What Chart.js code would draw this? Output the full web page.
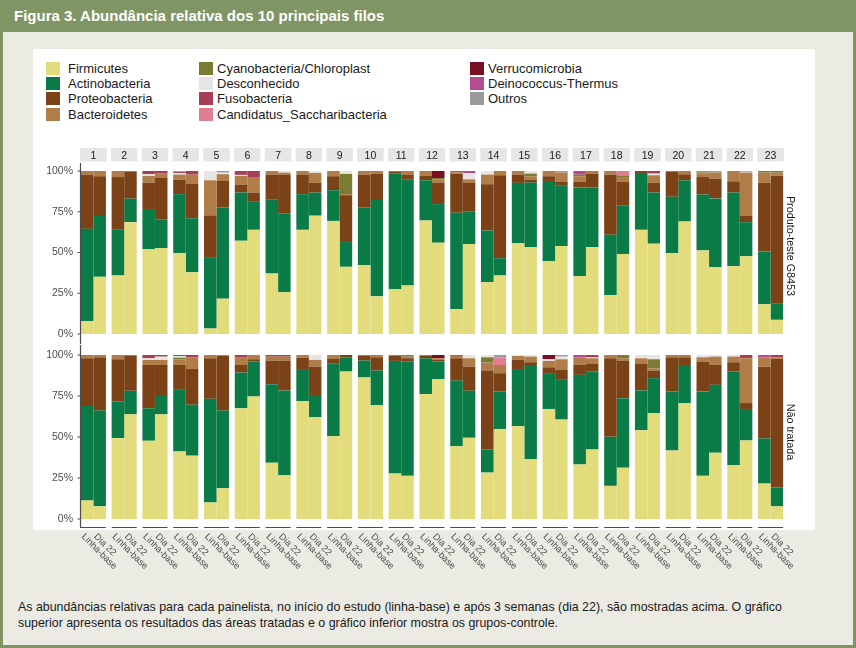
<!DOCTYPE html>
<html>
<head>
<meta charset="utf-8">
<script src="https://cdn.jsdelivr.net/npm/chart.js@4.4.1/dist/chart.umd.min.js"></script>
<style>
  body { margin: 0; }
  #page { position: relative; width: 856px; height: 648px; background: #ecebe3; overflow: hidden;
          font-family: "Liberation Sans", Arial, sans-serif; color: #1a1a1a; }
  #header { position: absolute; left: 0; top: 0; width: 856px; height: 32px; background: #7f9563;
            color: #fff; font-weight: bold; font-size: 15px; line-height: 32px; padding-left: 14px; box-sizing: border-box; }
  #frame { position: absolute; left: 0; top: 0; width: 856px; height: 648px; box-sizing: border-box;
           border: 3px solid #7f9563; border-top: none; pointer-events: none; }
  #panel { position: absolute; left: 33px; top: 49px; width: 782px; height: 481px; background: #fff; }
  .sw { position: absolute; width: 14px; height: 13px; }
  .lt { position: absolute; font-size: 13px; line-height: 13px; white-space: nowrap; }
  .wrap { position: absolute; }
  .facet { position: absolute; font-size: 10.8px; white-space: nowrap; color: #1a1a1a;
           transform: translate(-50%, -50%) rotate(90deg); }
  #caption { position: absolute; left: 18px; top: 599px; font-size: 12.4px; line-height: 16px; color: #1a1a1a; white-space: nowrap; }
</style>
</head>
<body>
<div id="page">
  <div id="header">Figura 3. Abundância relativa dos 10 principais filos</div>
  <div id="panel"></div>
  <div id="legend"></div>
  <div class="wrap" id="topWrap" style="left:33px;top:140px;width:753px;height:204px;"><canvas id="topChart"></canvas></div>
  <div class="wrap" id="botWrap" style="left:33px;top:345px;width:790px;height:230px;"><canvas id="botChart"></canvas></div>
  <div class="facet" style="left:791px;top:246px;">Produto-teste G8453</div>
  <div class="facet" style="left:791px;top:432px;">Não tratada</div>
  <div id="caption">As abundâncias relativas para cada painelista, no início do estudo (linha-base) e após 3 semanas (dia 22), são mostradas acima. O gráfico<br>superior apresenta os resultados das áreas tratadas e o gráfico inferior mostra os grupos-controle.</div>
  <div id="frame"></div>
</div>
<script>
// panels (painelistas) and time points
const panels = ['1','2','3','4','5','6','7','8','9','10','11','12','13','14','15','16','17','18','19','20','21','22','23'];
const timeLabels = ['Linha-base', 'Dia 22'];
const yTicks = [0, 25, 50, 75, 100];
const phyla = ['Firmicutes', 'Actinobacteria', 'Proteobacteria', 'Bacteroidetes',
  'Cyanobacteria/Chloroplast', 'Desconhecido', 'Fusobacteria', 'Candidatus_Saccharibacteria',
  'Verrucomicrobia', 'Deinococcus-Thermus', 'Outros'];
const phylaColors = ['#e2dc7c', '#0a7b47', '#7b4217', '#b07c48', '#7b7c33', '#e6e5e3',
  '#a63f55', '#e07d90', '#7a0f24', '#b64b8f', '#9b9b9b'];

// Produto-teste G8453 - Linha-base (%)
const firmTesteBase  = [8, 35.9, 52.1, 49.7, 3.4, 57.2, 37.1, 63.9, 69.4, 42.2, 27.4, 69.6, 15.2, 31.8, 55.8, 44.8, 35.5, 23.9, 63.9, 49.7, 51.3, 41.6, 18.3];
const actTesteBase   = [56.5, 28.4, 24.6, 36.1, 43.3, 29.6, 45.5, 21.9, 18.8, 35.5, 71, 24.7, 59.2, 31.7, 36.9, 49.1, 54.4, 37, 34.9, 34.5, 34.3, 45.2, 32.4];
const proTesteBase   = [33.3, 32, 16.2, 8.9, 26.1, 4.9, 15.2, 12, 8.6, 20.1, 1, 2.7, 24, 28.4, 5.1, 2.9, 3.4, 36.9, 1.2, 15.2, 10.7, 6.9, 42];
const bacTesteBase   = [2.2, 3.7, 4.1, 3.1, 21.5, 5.3, 2.2, 2.2, 3.2, 2.2, 0.6, 3, 0.8, 5.9, 2.2, 3.2, 3.5, 2.2, 0, 0.6, 2.1, 6.3, 6.3];
const cyaTesteBase   = [0, 0, 0, 0, 0, 0, 0, 0, 0, 0, 0, 0, 0, 0, 0, 0, 1, 0, 0, 0, 0.8, 0, 1];
const desTesteBase   = [0, 0, 1, 1, 5.7, 0.6, 0, 0, 0, 0, 0, 0, 0, 2.2, 0, 0, 0, 0, 0, 0, 0, 0, 0];
const fusTesteBase   = [0, 0, 2, 0.7, 0, 2.4, 0, 0, 0, 0, 0, 0, 0, 0, 0, 0, 0, 0, 0, 0, 0, 0, 0];
const canTesteBase   = [0, 0, 0, 0.5, 0, 0, 0, 0, 0, 0, 0, 0, 0, 0, 0, 0, 0, 0, 0, 0, 0, 0, 0];
const verTesteBase   = [0, 0, 0, 0, 0, 0, 0, 0, 0, 0, 0, 0, 0, 0, 0, 0, 0, 0, 0, 0, 0, 0, 0];
const deiTesteBase   = [0, 0, 0, 0, 0, 0, 0, 0, 0, 0, 0, 0, 0.8, 0, 0, 0, 2.2, 0, 0, 0, 0, 0, 0];
const outTesteBase   = [0, 0, 0, 0, 0, 0, 0, 0, 0, 0, 0, 0, 0, 0, 0, 0, 0, 0, 0, 0, 0.8, 0, 0];

// Produto-teste G8453 - Dia 22 (%)
const firmTesteDia  = [35.1, 68.6, 52.7, 37.9, 21.7, 63.9, 25.6, 72.6, 41.2, 23.1, 29.8, 56, 55.2, 35.9, 53.3, 54, 53.3, 49.1, 55.4, 69, 41, 47.7, 8.7];
const actTesteDia   = [37.3, 14.4, 17.7, 33.1, 55.8, 17.6, 48.2, 14.2, 15.2, 59.1, 65.1, 23.7, 19.8, 10.6, 39.6, 36.9, 36.6, 29.6, 31.4, 25.3, 42.2, 20.9, 10.2];
const proTesteDia   = [24.4, 16.4, 25.3, 21.3, 16.4, 5.3, 23.8, 5.9, 28.8, 16.2, 2.7, 13.2, 17.7, 50.9, 1.8, 2.4, 8.5, 14.6, 5.9, 3.7, 12.1, 3.8, 78.1];
const bacTesteDia   = [3.2, 0.6, 2.7, 5.5, 4.1, 9.5, 1.4, 6.1, 0.6, 1.6, 2.4, 1.8, 2.2, 2.6, 2.1, 5.7, 1.6, 2.5, 4.7, 2, 3.7, 26.6, 2];
const cyaTesteDia   = [0, 0, 0, 0, 0, 0, 0, 0, 12.4, 0, 0, 1, 0, 0, 1.6, 0, 0, 1.5, 0, 0, 0, 0, 1];
const desTesteDia   = [0, 0, 0, 0, 1, 0, 1, 1.2, 1.8, 0, 0, 0, 3.8, 0, 1.6, 0, 0, 0, 1, 0, 0, 0.6, 0];
const fusTesteDia   = [0, 0, 1.6, 2.2, 0, 3.7, 0, 0, 0, 0, 0, 0, 0, 0, 0, 0, 0, 0, 1.6, 0, 0, 0.4, 0];
const canTesteDia   = [0, 0, 0, 0, 0, 0, 0, 0, 0, 0, 0, 0, 0, 0, 0, 0, 0, 2.7, 0, 0, 0, 0, 0];
const verTesteDia   = [0, 0, 0, 0, 0, 0, 0, 0, 0, 0, 0, 4.3, 0, 0, 0, 0, 0, 0, 0, 0, 0, 0, 0];
const deiTesteDia   = [0, 0, 0, 0, 0, 0, 0, 0, 0, 0, 0, 0, 1.3, 0, 0, 0, 0, 0, 0, 0, 0, 0, 0];
const outTesteDia   = [0, 0, 0, 0, 1, 0, 0, 0, 0, 0, 0, 0, 0, 0, 0, 1, 0, 0, 0, 0, 1, 0, 0];

// Não tratada - Linha-base (%)
const firmCtrlBase  = [11.3, 49.3, 47.7, 41.2, 10.1, 67.5, 34.3, 71.9, 50.5, 86.3, 27.7, 76.2, 44.4, 28.3, 56.6, 67.1, 33.3, 20.2, 54.1, 41.8, 26.3, 32.7, 21.6];
const actCtrlBase   = [57.6, 22.4, 19.8, 38, 63.2, 21.8, 47.9, 19, 44.4, 10.3, 68.7, 21.8, 40, 14.1, 34.3, 21.4, 54.6, 29.9, 24.3, 36, 51.5, 57.2, 27.5];
const proCtrlBase   = [29.1, 25.7, 26.4, 14.7, 24.7, 4.6, 14.4, 7.5, 2.7, 2.8, 3, 1.4, 13.6, 48.1, 6.1, 4, 6, 47.9, 16.1, 20.8, 18.2, 5.7, 43.8];
const bacCtrlBase   = [2, 2.6, 3.1, 3.5, 2, 4.5, 2.4, 1.6, 2.4, 0.6, 0.6, 0.6, 1.4, 4.9, 2.4, 3.9, 4.5, 2, 3.5, 1.4, 2.6, 3.4, 5.7];
const cyaCtrlBase   = [0, 0, 0, 1, 0, 0, 0, 0, 0, 0, 0, 0, 0, 3.2, 0, 0, 0, 0, 0, 0, 0, 0, 0];
const desCtrlBase   = [0, 0, 1, 1, 0, 0, 0, 0, 0, 0, 0, 0, 0, 1.4, 0.6, 1, 0, 0, 2, 0, 1.4, 1, 0];
const fusCtrlBase   = [0, 0, 2, 0.6, 0, 1.6, 1, 0, 0, 0, 0, 0, 0, 0, 0, 0, 0, 0, 0, 0, 0, 0, 0];
const canCtrlBase   = [0, 0, 0, 0, 0, 0, 0, 0, 0, 0, 0, 0, 0, 0, 0, 0, 0, 0, 0, 0, 0, 0, 0];
const verCtrlBase   = [0, 0, 0, 0, 0, 0, 0, 0, 0, 0, 0, 0, 0, 0, 0, 2.6, 0, 0, 0, 0, 0, 0, 0];
const deiCtrlBase   = [0, 0, 0, 0, 0, 0, 0, 0, 0, 0, 0, 0, 0.6, 0, 0, 0, 1.6, 0, 0, 0, 0, 0, 1.4];
const outCtrlBase   = [0, 0, 0, 0, 0, 0, 0, 0, 0, 0, 0, 0, 0, 0, 0, 0, 0, 0, 0, 0, 0, 0, 0];

// Não tratada - Dia 22 (%)
const firmCtrlDia  = [7.7, 63.8, 63.8, 38.6, 18.8, 74.7, 26.7, 62.2, 89.9, 69.3, 26.3, 85.3, 49.5, 54.9, 36.4, 60.6, 42.4, 31.3, 64.6, 70.7, 40.4, 47.9, 7.7];
const actCtrlDia   = [58.4, 14.4, 11.8, 31.1, 47.3, 21.3, 51.7, 13.4, 8.7, 21.2, 69.7, 10.7, 28.7, 22.9, 57.5, 24.7, 47.5, 42.4, 21.3, 23.2, 41.4, 19.2, 11.5];
const proCtrlDia   = [32.5, 21.2, 18.3, 21.8, 33.5, 1.4, 18.2, 17.3, 1.4, 8.1, 2, 1, 14.7, 11.1, 1.7, 5.6, 4.6, 22.9, 4.6, 4.7, 12.1, 3.6, 78.4];
const bacCtrlDia   = [1.4, 0.6, 3.1, 7.1, 0.4, 2.6, 2.4, 4.1, 0, 1.4, 1, 1, 5.1, 5, 3.4, 6.5, 3.5, 1.4, 1.4, 1.4, 5.1, 27.3, 1];
const cyaCtrlDia   = [0, 0, 0, 0, 0, 0, 0, 0, 0, 0, 1, 0, 0, 0, 0, 0, 0, 2, 5.5, 0, 0, 0, 0];
const desCtrlDia   = [0, 0, 2, 0, 0, 0, 0, 3, 0, 0, 0, 0, 2, 0, 1, 1.6, 0.5, 0, 2.6, 0, 1, 0, 0];
const fusCtrlDia   = [0, 0, 1, 1.4, 0, 0, 1, 0, 0, 0, 0, 0, 0, 0, 0, 0, 1.5, 0, 0, 0, 0, 2, 1.4];
const canCtrlDia   = [0, 0, 0, 0, 0, 0, 0, 0, 0, 0, 0, 0, 0, 4.7, 0, 0, 0, 0, 0, 0, 0, 0, 0];
const verCtrlDia   = [0, 0, 0, 0, 0, 0, 0, 0, 0, 0, 0, 2, 0, 0, 0, 0, 0, 0, 0, 0, 0, 0, 0];
const deiCtrlDia   = [0, 0, 0, 0, 0, 0, 0, 0, 0, 0, 0, 0, 0, 0, 0, 0, 0, 0, 0, 0, 0, 0, 0];
const outCtrlDia   = [0, 0, 0, 0, 0, 0, 0, 0, 0, 0, 0, 0, 0, 1.4, 0, 1, 0, 0, 0, 0, 0, 0, 0];

const testeBase = [firmTesteBase, actTesteBase, proTesteBase, bacTesteBase, cyaTesteBase, desTesteBase, fusTesteBase, canTesteBase, verTesteBase, deiTesteBase, outTesteBase];
const testeDia  = [firmTesteDia, actTesteDia, proTesteDia, bacTesteDia, cyaTesteDia, desTesteDia, fusTesteDia, canTesteDia, verTesteDia, deiTesteDia, outTesteDia];
const ctrlBase  = [firmCtrlBase, actCtrlBase, proCtrlBase, bacCtrlBase, cyaCtrlBase, desCtrlBase, fusCtrlBase, canCtrlBase, verCtrlBase, deiCtrlBase, outCtrlBase];
const ctrlDia   = [firmCtrlDia, actCtrlDia, proCtrlDia, bacCtrlDia, cyaCtrlDia, desCtrlDia, fusCtrlDia, canCtrlDia, verCtrlDia, deiCtrlDia, outCtrlDia];

const FONT = '"Liberation Sans", Arial, sans-serif';

// legend, laid out column by column like the original
const legendCols = [[0, 1, 2, 3], [4, 5, 6, 7], [8, 9, 10]];
const legendSwX = [46, 199, 470];
const legendTxX = [68, 217, 488];
const legendEl = document.getElementById('legend');
legendCols.forEach((col, c) => {
  col.forEach((k, r) => {
    const top = 62 + r * 15.2;
    const sw = document.createElement('div');
    sw.className = 'sw';
    sw.style.left = legendSwX[c] + 'px';
    sw.style.top = top + 'px';
    sw.style.background = phylaColors[k];
    legendEl.appendChild(sw);
    const tx = document.createElement('div');
    tx.className = 'lt';
    tx.style.left = legendTxX[c] + 'px';
    tx.style.top = top + 'px';
    tx.textContent = phyla[k];
    legendEl.appendChild(tx);
  });
});

function makeDatasets(base, dia) {
  const ds = [];
  phyla.forEach((name, k) => ds.push({ label: name, data: base[k], backgroundColor: phylaColors[k], stack: 'base' }));
  phyla.forEach((name, k) => ds.push({ label: name, data: dia[k], backgroundColor: phylaColors[k], stack: 'dia22' }));
  return ds;
}

// facet decorations: strip boxes, axis lines, rotated time labels
const facetPlugin = {
  id: 'facets',
  beforeDraw(chart, args, opts) {
    if (!opts.strips) return;
    const { ctx, chartArea } = chart;
    const a = chart.getDatasetMeta(0).data, b = chart.getDatasetMeta(phyla.length).data;
    ctx.save();
    ctx.fillStyle = '#e6e6e6';
    a.forEach((bar, i) => {
      const l = bar.x - bar.width / 2 - 0.7, r = b[i].x + b[i].width / 2 + 0.7;
      ctx.fillRect(l, chartArea.top - 23, r - l, 13.5);
    });
    ctx.restore();
  },
  afterDraw(chart, args, opts) {
    const { ctx, chartArea, scales } = chart;
    const a = chart.getDatasetMeta(0).data, b = chart.getDatasetMeta(phyla.length).data;
    const axX = Math.round(a[0].x - a[0].width / 2) - 0.5;
    ctx.save();
    ctx.strokeStyle = '#4d4d4d';
    ctx.lineWidth = 1.2;
    ctx.beginPath();
    ctx.moveTo(axX, opts.lineFrom === 'top' ? chartArea.top - 8 : 0);
    ctx.lineTo(axX, opts.lineTo === 'end' ? chart.height : chartArea.bottom + 9);
    yTicks.forEach(v => {
      const y = scales.y.getPixelForValue(v);
      ctx.moveTo(axX - 3, y);
      ctx.lineTo(axX, y);
    });
    ctx.stroke();
    if (opts.xLabels) {
      const yAx = chartArea.bottom + 8.5;
      ctx.beginPath();
      a.forEach((bar, i) => {
        ctx.moveTo(bar.x - bar.width / 2, yAx);
        ctx.lineTo(b[i].x + b[i].width / 2, yAx);
      });
      ctx.stroke();
      ctx.fillStyle = '#4d4d4d';
      ctx.font = '9.3px ' + FONT;
      ctx.textAlign = 'left';
      ctx.textBaseline = 'top';
      [a, b].forEach((bars, t) => {
        bars.forEach(bar => {
          ctx.save();
          ctx.translate(bar.x - 1, chartArea.bottom + 13);
          ctx.rotate(Math.PI / 4);
          ctx.fillText(timeLabels[t], 0, 0);
          ctx.restore();
        });
      });
    }
    ctx.restore();
  }
};

function makeChart(id, base, dia, isTop) {
  return new Chart(document.getElementById(id), {
    type: 'bar',
    data: { labels: panels, datasets: makeDatasets(base, dia) },
    plugins: [facetPlugin],
    options: {
      responsive: true,
      maintainAspectRatio: false,
      animation: false,
      events: [],
      datasets: { bar: { barPercentage: 1, categoryPercentage: 0.815, borderWidth: 0 } },
      layout: { padding: isTop ? { top: 0, bottom: 10, left: 0, right: 0 } : { top: 10, bottom: 0, left: 0, right: 37 } },
      plugins: {
        legend: { display: false },
        tooltip: { enabled: false },
        facets: isTop ? { strips: true, xLabels: false, lineFrom: 'top', lineTo: 'end' }
                      : { strips: false, xLabels: true, lineFrom: 'start', lineTo: 'axis' }
      },
      scales: {
        x: {
          stacked: true,
          position: isTop ? 'top' : 'bottom',
          grid: { display: false, drawTicks: false },
          border: { display: false },
          ticks: { display: isTop, color: '#1a1a1a', font: { size: 10.5, family: FONT }, padding: 9, maxRotation: 0, autoSkip: false },
          afterFit: s => { s.height = isTop ? 31 : 56; }
        },
        y: {
          stacked: true,
          min: 0,
          max: 100,
          afterFit: s => { s.width = 45; },
          afterBuildTicks: s => { s.ticks = yTicks.map(v => ({ value: v })); },
          grid: { display: false, drawTicks: true, tickLength: 3 },
          border: { display: false },
          ticks: { callback: v => v + '%', color: '#4d4d4d', font: { size: 10.5, family: FONT }, padding: 2 }
        }
      }
    }
  });
}

makeChart('topChart', testeBase, testeDia, true);
makeChart('botChart', ctrlBase, ctrlDia, false);
</script>
</body>
</html>
